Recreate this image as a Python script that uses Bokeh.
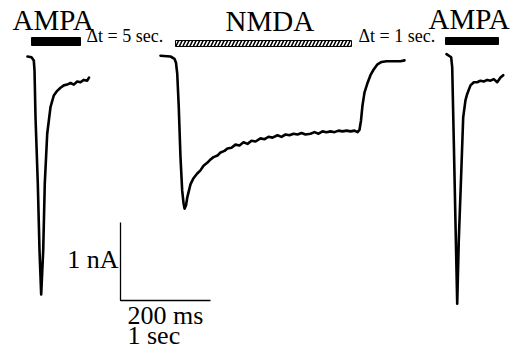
from bokeh.plotting import figure
from bokeh.models import Range1d
from bokeh.core.properties import value
from bokeh.embed import file_html
from bokeh.resources import INLINE

# ---------------- data ----------------
# AMPA response 1: time (ms), current (nA, relative to baseline)
ampa1_t = [0, 8.9, 14.0, 15.6, 17.8, 22.9, 26.7, 30.4, 34.9, 38.4, 43.8, 51.1, 58.4,
           66.0, 73.3, 80.7, 88.2, 95.6, 102.9, 110.4, 117.8, 125.1, 132.7, 136.7]
ampa1_i = [0, -0.01, -0.05, -0.18, -0.78, -1.63, -2.49, -3.05, -2.49, -1.63, -0.99, -0.65, -0.50,
           -0.44, -0.40, -0.37, -0.36, -0.34, -0.36, -0.32, -0.33, -0.30, -0.31, -0.27]

# NMDA response: time (s), current (nA)
nmda_t = [0, 0.111, 0.156, 0.172, 0.186, 0.203, 0.222, 0.241, 0.256, 0.267, 0.283, 0.297,
          0.333, 0.367, 0.408, 0.444, 0.478, 0.522, 0.556, 0.589, 0.633, 0.667, 0.711, 0.744,
          0.789, 0.833, 0.878, 0.922, 0.967, 1.011, 1.056, 1.111, 1.156, 1.200, 1.244, 1.300,
          1.344, 1.389, 1.433, 1.478, 1.522, 1.567, 1.611, 1.667, 1.711, 1.756, 1.800, 1.844,
          1.889, 1.933, 1.978, 2.022, 2.067, 2.111, 2.156, 2.189, 2.211, 2.228, 2.244, 2.267,
          2.297, 2.333, 2.367, 2.411, 2.456, 2.511, 2.589, 2.667, 2.711]
nmda_i = [0.01, 0, -0.03, -0.08, -0.22, -0.65, -1.29, -1.72, -1.88, -1.95, -1.91, -1.81,
          -1.64, -1.56, -1.50, -1.46, -1.40, -1.36, -1.32, -1.29, -1.27, -1.23, -1.21, -1.18,
          -1.17, -1.13, -1.14, -1.10, -1.12, -1.08, -1.09, -1.05, -1.06, -1.03, -1.04, -1.01,
          -1.03, -1.00, -1.01, -0.99, -1.00, -0.98, -1.00, -0.99, -0.97, -0.99, -0.96, -0.97,
          -0.96, -0.97, -0.95, -0.96, -0.95, -0.96, -0.95, -0.97, -0.94, -0.82, -0.63, -0.46,
          -0.35, -0.24, -0.17, -0.10, -0.07, -0.06, -0.06, -0.06, -0.05]

# AMPA response 2: time (ms), current (nA)
ampa2_t = [0, 10.4, 12.7, 16.2, 20.0, 23.8, 27.3, 32.7, 37.1, 42.2, 46.0, 53.3, 60.7,
           68.2, 75.6, 82.9, 90.4, 97.8, 105.1, 112.7, 120.0, 126.0]
ampa2_i = [0.03, -0.01, -0.14, -1.08, -2.14, -3.17, -2.36, -1.50, -0.78, -0.56, -0.48, -0.37, -0.33,
           -0.33, -0.31, -0.32, -0.30, -0.31, -0.29, -0.33, -0.27, -0.24]

# agonist application periods (start, end)
ampa1_app = [8.9, 117.8]     # ms
nmda_app = [0.167, 2.122]    # s
ampa2_app = [-2.2, 115.5]    # ms

titles = ["AMPA", "NMDA", "AMPA"]
intervals = ["\u0394t = 5 sec.", "\u0394t = 1 sec."]
scale_current_nA = 1.0
scale_ampa_ms = 200.0
scale_nmda_s = 1.0
scale_labels = ["1 nA", "200 ms", "1 sec"]

# ---------------- layout ----------------
W, H = 526, 352
XU = 90.0   # px per scale-bar unit (200 ms / 1 s)
YU = 78.0   # px per nA
def sx(px):
    return px / XU
def sy(py):
    return -(py - 56) / YU
def base(py, size):
    # text baseline placement compensation
    return sy(py - 0.36 * size)

p = figure(width=W, height=H, output_backend="svg", toolbar_location=None,
           x_range=Range1d(sx(0), sx(W)), y_range=Range1d(sy(H), sy(0)),
           x_axis_type=None, y_axis_type=None, min_border=0)
p.grid.visible = False
p.outline_line_color = None
p.background_fill_color = "white"
p.border_fill_color = "white"

serif = value("Liberation Serif")

# traces
x0_a1, x0_n, x0_a2 = sx(27), sx(160), sx(446)
p.line([x0_a1 + t / scale_ampa_ms for t in ampa1_t], ampa1_i, line_color="black", line_width=2.6,
       line_join="round", line_cap="round")
p.line([x0_n + t / scale_nmda_s for t in nmda_t], nmda_i, line_color="black", line_width=2.6,
       line_join="round", line_cap="round")
p.line([x0_a2 + t / scale_ampa_ms for t in ampa2_t], ampa2_i, line_color="black", line_width=2.6,
       line_join="round", line_cap="round")

# application bars
p.quad(left=[x0_a1 + ampa1_app[0] / scale_ampa_ms, x0_a2 + ampa2_app[0] / scale_ampa_ms],
       right=[x0_a1 + ampa1_app[1] / scale_ampa_ms, x0_a2 + ampa2_app[1] / scale_ampa_ms],
       bottom=[sy(45), sy(44)], top=[sy(37), sy(37)],
       fill_color="black", line_color="black")
p.quad(left=[x0_n + nmda_app[0] / scale_nmda_s], right=[x0_n + nmda_app[1] / scale_nmda_s],
       bottom=[sy(46)], top=[sy(40)], fill_color="white", line_color="black", line_width=1,
       hatch_pattern="/", hatch_color="black", hatch_scale=7, hatch_weight=1.6)

# titles
p.text(x=[sx(12), sx(225), sx(428)], y=[base(30, 29), base(31, 29), base(29, 29)], text=titles,
       text_font=serif, text_font_size="29px", text_color="black",
       text_align="left", text_baseline="alphabetic")
# intervals
p.text(x=[sx(86), sx(358)], y=[base(41.5, 18), base(41.5, 18)], text=intervals,
       text_font=serif, text_font_size="18px", text_color="black",
       text_align="left", text_baseline="alphabetic")

# scale bar
cx, cy = sx(120), sy(300)
p.line([cx, cx, cx + scale_ampa_ms / scale_ampa_ms], [cy + scale_current_nA, cy, cy],
       line_color="black", line_width=1.3)
p.text(x=[sx(118)], y=[base(268, 26)], text=[scale_labels[0]], text_font=serif, text_font_size="26px",
       text_align="right", text_baseline="alphabetic", text_color="black")
p.text(x=[sx(127), sx(127)], y=[base(324, 26), base(344, 26)], text=scale_labels[1:], text_font=serif,
       text_font_size="26px", text_align="left", text_baseline="alphabetic", text_color="black")

open("out.html", "w").write(file_html(p, INLINE))
